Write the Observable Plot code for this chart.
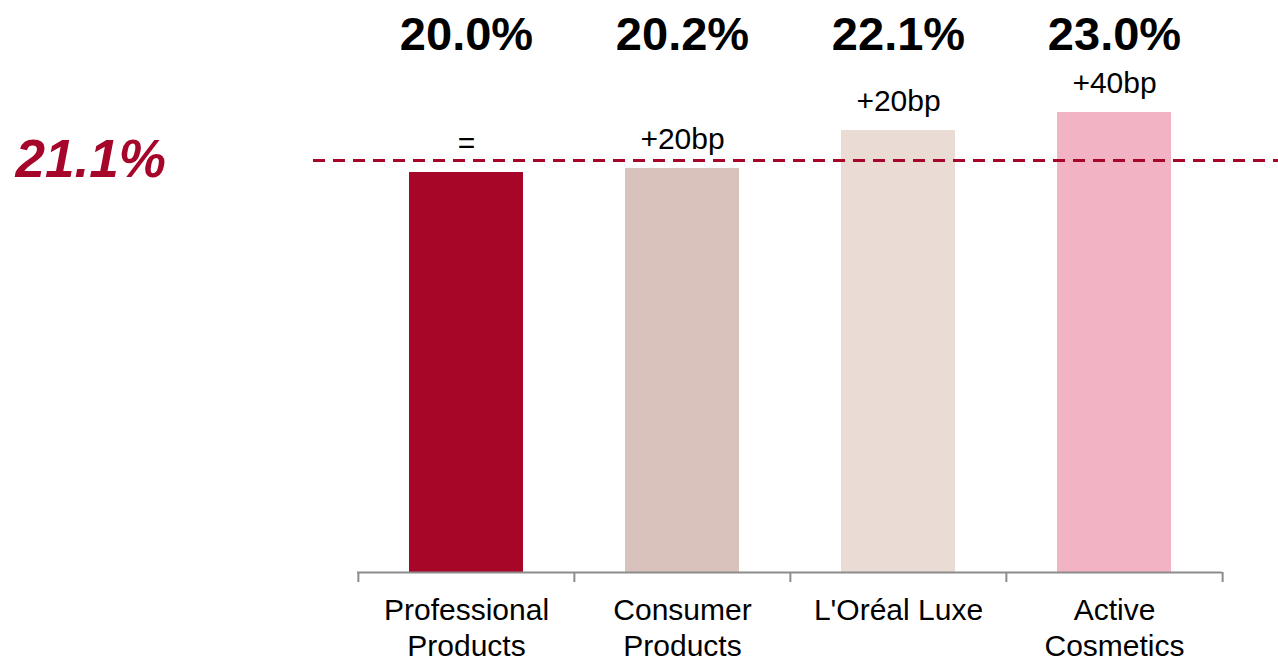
<!DOCTYPE html>
<html><head><meta charset="utf-8">
<script src="https://cdn.jsdelivr.net/npm/d3@7"></script>
<script src="https://cdn.jsdelivr.net/npm/@observablehq/plot@0.6"></script>
<style>body{margin:0;background:#fff}</style>
</head><body><div id="chart"></div>
<script>
const categories = ["Professional Products", "Consumer Products", "L'Oréal Luxe", "Active Cosmetics"];
const axisLabels = ["Professional\nProducts", "Consumer\nProducts", "L'Oréal Luxe", "Active\nCosmetics"];
const margins = [20.0, 20.2, 22.1, 23.0];
const changes = ["=", "+20bp", "+20bp", "+40bp"];
const colors = ["#A80628", "#D9C2BB", "#EADCD4", "#F2B3C4"];
const groupAverage = 21.1;

const W = 1278, H = 662, mL = 357, mR = 56, mT = 72, mB = 90;
const step = (W - mL - mR) / categories.length;
const data = categories.map((c, i) => ({cat: c, value: margins[i], change: changes[i]}));
const font = "'Liberation Sans', Arial, sans-serif";
const red = "#A6062A";
const grey = "#8c8c8c";

const chart = Plot.plot({
  width: W, height: H, marginLeft: mL, marginRight: mR, marginTop: mT, marginBottom: mB,
  style: {fontFamily: font, background: "#fff", color: "#000"},
  x: {domain: categories, padding: 0},
  y: {domain: [0, 25], axis: null},
  color: {domain: categories, range: colors},
  marks: [
    Plot.barY(data, {x: "cat", y: "value", fill: "cat", insetLeft: 51, insetRight: 51}),
    Plot.ruleY([0], {stroke: grey, strokeWidth: 2}),
    Plot.ruleX(data, {x: "cat", y1: 0, y2: 0, insetBottom: -10, dx: -step / 2, stroke: grey, strokeWidth: 2}),
    Plot.ruleX([categories[categories.length - 1]], {x: d => d, y1: 0, y2: 0, insetBottom: -10, dx: step / 2, stroke: grey, strokeWidth: 2}),
    Plot.axisX({tickSize: 0, tickPadding: 21, fontSize: 30, lineHeight: 1.22, label: null,
      tickFormat: c => axisLabels[categories.indexOf(c)]}),
    Plot.ruleY([groupAverage], {stroke: red, strokeWidth: 3, strokeDasharray: "12,8", insetLeft: -44, insetRight: -56, dy: 10}),
    Plot.text([groupAverage], {y: d => d, text: d => d.toFixed(1) + "%", frameAnchor: "left", textAnchor: "start",
      dx: -342, dy: 26, lineAnchor: "bottom", fontSize: 53, fontWeight: "bold", fontStyle: "italic", fill: red}),
    Plot.text(data, {x: "cat", text: d => d.value.toFixed(1) + "%", frameAnchor: "top", lineAnchor: "bottom",
      dy: -23, fontSize: 47, fontWeight: "bold", fill: "#000"}),
    Plot.text(data, {x: "cat", y: "value", text: "change", lineAnchor: "bottom", dy: -20, fontSize: 30, fill: "#000"})
  ]
});
document.getElementById("chart").append(chart);
</script>
</body></html>
